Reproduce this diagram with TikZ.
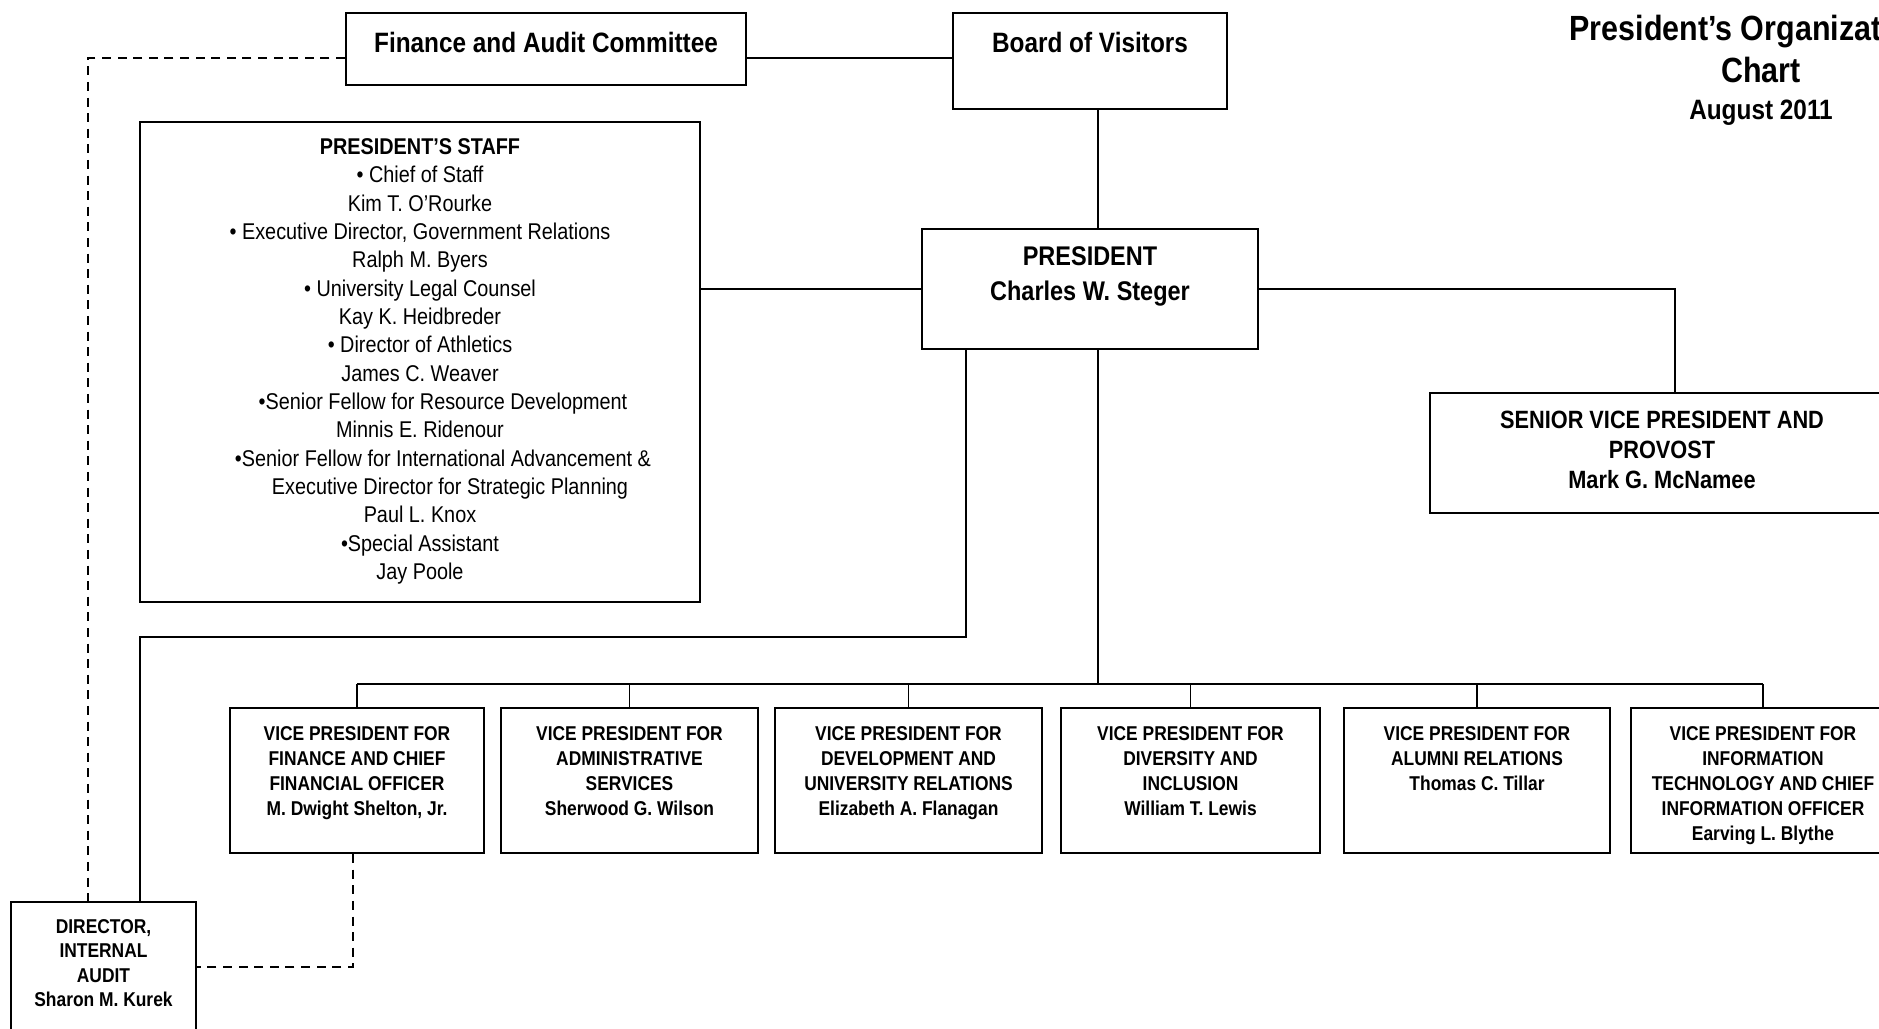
\documentclass[tikz,border=0pt]{standalone}
\usepackage{fontspec}
\setmainfont{Liberation Sans}[FakeStretch=0.87]
\newcommand{\boxtxt}[4]{\parbox[c][#2][t]{#1}{\centering\rule{0pt}{#3}#4}}
\newcommand{\vptxt}[2]{\boxtxt{#1}{72.5pt}{16.2pt}{#2}}
\begin{document}
\begin{tikzpicture}[x=0.5pt,y=-0.5pt,line width=0.7pt,
box/.style={draw,line width=1.1pt,inner sep=0pt,font=\bfseries\fontsize{14}{17.7}\selectfont},
vp/.style={box,font=\bfseries\fontsize{10}{12.5}\selectfont},
aux/.style={dash pattern=on 4.5pt off 3.3pt}]
\useasboundingbox (0,0) rectangle (1879,1028);
\node[inner sep=0pt,anchor=north,font=\bfseries\fontsize{17.5}{21}\selectfont] (title) at (1761,0)
{\boxtxt{240pt}{64pt}{20pt}{President's Organizational\\Chart\\[-2.7pt]{\fontsize{14}{21}\selectfont August 2011}}};
\node[box] (fac) at (546,49) {\boxtxt{200pt}{36pt}{19.5pt}{Finance and Audit Committee}};
\node[box] (bov) at (1090,61) {\boxtxt{137pt}{48pt}{19.5pt}{Board of Visitors}};
\node[box,font=\fontsize{11.4}{14.17}\selectfont] (staff) at (420,362) {\boxtxt{280pt}{240pt}{16.2pt}{\textbf{PRESIDENT'S STAFF}\\
• Chief of Staff\\Kim T. O'Rourke\\• Executive Director, Government Relations\\Ralph M. Byers\\
• University Legal Counsel\\Kay K. Heidbreder\\• Director of Athletics\\James C. Weaver\\
\hspace*{23pt}•Senior Fellow for Resource Development\\Minnis E. Ridenour\\
\hspace*{23pt}•Senior Fellow for International Advancement \&\\\hspace*{30pt}Executive Director for Strategic Planning\\
Paul L. Knox\\•Special Assistant\\Jay Poole}};
\node[box,font=\bfseries\fontsize{13.5}{17.7}\selectfont] (pres) at (1090,289) {\boxtxt{168pt}{60pt}{18.2pt}{PRESIDENT\\Charles W. Steger}};
\node[box,font=\bfseries\fontsize{12.5}{15}\selectfont] (svp) at (1662,453) {\boxtxt{232pt}{60pt}{17.7pt}{SENIOR VICE PRESIDENT AND\\PROVOST\\Mark G. McNamee}};
\node[vp] (vpfin) at (357,780.5) {\vptxt{127pt}{VICE PRESIDENT FOR\\FINANCE AND CHIEF\\FINANCIAL OFFICER\\M. Dwight Shelton, Jr.}};
\node[vp] (vpadm) at (629.5,780.5) {\vptxt{128.5pt}{VICE PRESIDENT FOR\\ADMINISTRATIVE\\SERVICES\\Sherwood G. Wilson}};
\node[vp] (vpdev) at (908.5,780.5) {\vptxt{133.5pt}{VICE PRESIDENT FOR\\DEVELOPMENT AND\\UNIVERSITY RELATIONS\\Elizabeth A. Flanagan}};
\node[vp] (vpdiv) at (1190.5,780.5) {\vptxt{129.5pt}{VICE PRESIDENT FOR\\DIVERSITY AND\\INCLUSION\\William T. Lewis}};
\node[vp] (vpalu) at (1477,780.5) {\vptxt{133pt}{VICE PRESIDENT FOR\\ALUMNI RELATIONS\\Thomas C. Tillar}};
\node[vp] (vpit) at (1763,780.5) {\vptxt{132pt}{VICE PRESIDENT FOR\\INFORMATION\\TECHNOLOGY AND CHIEF\\INFORMATION OFFICER\\Earving L. Blythe}};
\node[vp,font=\bfseries\fontsize{10}{12.25}\selectfont] (dia) at (103.5,967) {\boxtxt{92.5pt}{65pt}{15.7pt}{DIRECTOR,\\INTERNAL\\AUDIT\\Sharon M. Kurek}};
\coordinate (trunk) at (1098,684);
\coordinate (sv) at (1675,289);
\coordinate (dj) at (966,637);
\coordinate (dk) at (140,637);
\coordinate (dl) at (88,58);
\coordinate (dv) at (353,967);
\draw (fac.east |- dl) -- (dl -| bov.west);
\draw (bov.south -| trunk) -- (pres.north -| trunk) (pres.south -| trunk) -- (trunk);
\draw (staff.east |- pres.west) -- (pres.west);
\draw (pres.east) -- (sv) -- (sv |- svp.north);
\draw (pres.south -| dj) -- (dj) -- (dk) -- (dk |- dia.north);
\draw (vpfin.north |- trunk) -- (vpit.north |- trunk);
\foreach \v in {vpfin,vpadm,vpdev,vpdiv,vpalu,vpit}
\draw (\v.north |- trunk) -- (\v.north);
\draw[aux] (fac.west |- dl) -- (dl) -- (dl |- dia.north);
\draw[aux] (vpfin.south -| dv) -- (dv) -- (dv -| dia.east);
\end{tikzpicture}
\end{document}
